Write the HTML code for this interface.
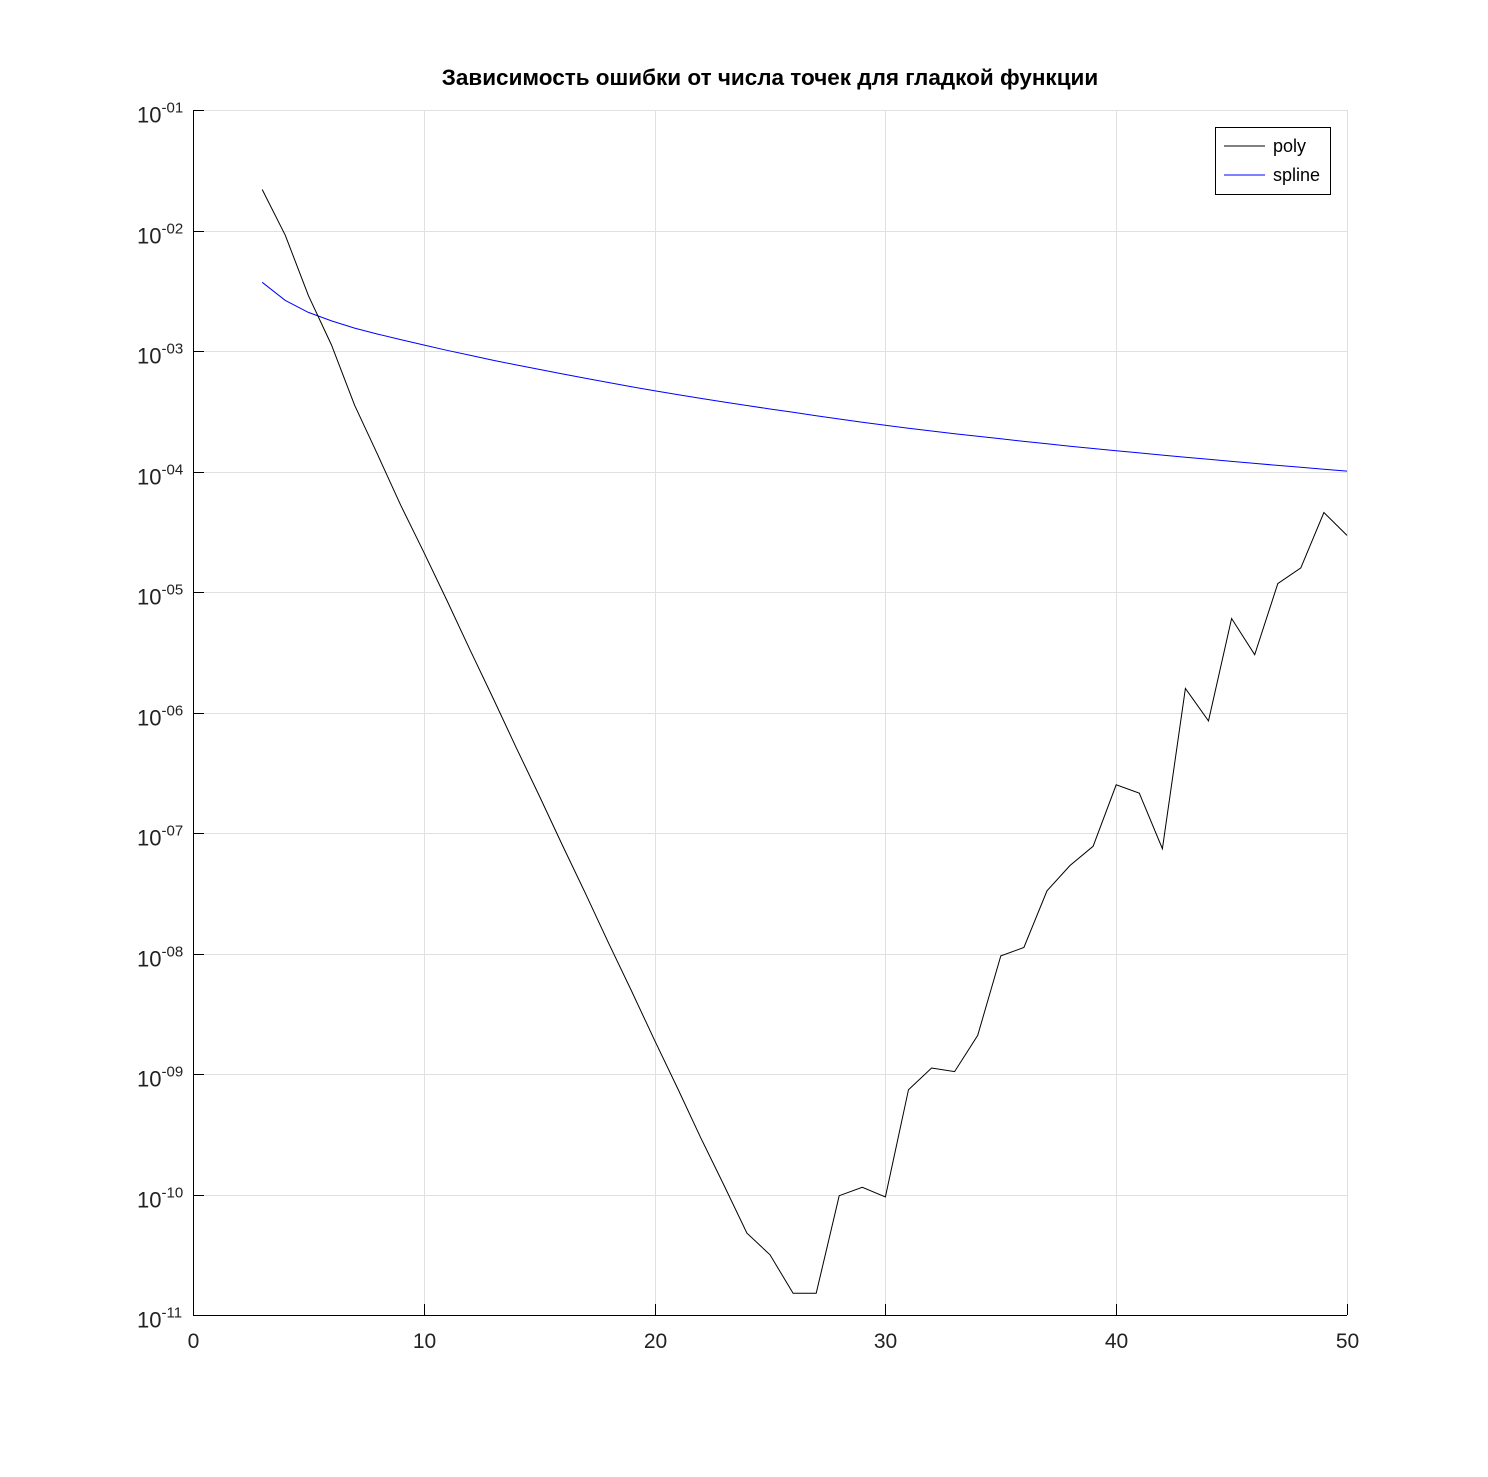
<!DOCTYPE html>
<html><head><meta charset="utf-8"><style>
html,body{margin:0;padding:0;background:#fff}
svg{display:block}
text{font-family:"Liberation Sans",sans-serif}
</style></head><body>
<svg id="chart" width="1488" height="1477" viewBox="0 0 1488 1477" xmlns="http://www.w3.org/2000/svg">
<text x="770" y="85" text-anchor="middle" font-size="22.5" font-weight="bold">Зависимость ошибки от числа точек для гладкой функции</text>
<g id="grid"></g><g id="axes"></g><g id="series"></g>
<g>
<rect x="1215.5" y="127.5" width="115" height="67" fill="#fff" stroke="#000" stroke-width="1"/>
<line x1="1224" y1="146" x2="1265" y2="146" stroke="#000"/>
<text x="1273" y="152" font-size="18">poly</text>
<line x1="1224" y1="175" x2="1265" y2="175" stroke="#00f"/>
<text x="1273" y="181" font-size="18">spline</text>
</g>
</svg>
<script>
const xTicks=[0,10,20,30,40,50];
const yExps=[-1,-2,-3,-4,-5,-6,-7,-8,-9,-10,-11];
const yTickLabels=["01","02","03","04","05","06","07","08","09","10","11"];
const nPoints=[3,4,5,6,7,8,9,10,11,12,13,14,15,16,17,18,19,20,21,22,23,24,25,26,27,28,29,30,31,32,33,34,35,36,37,38,39,40,41,42,43,44,45,46,47,48,49,50];
const polyLog=[-1.66,-2.04,-2.54,-2.95,-3.45,-3.86,-4.28,-4.67,-5.07,-5.48,-5.88,-6.29,-6.69,-7.10,-7.50,-7.91,-8.31,-8.72,-9.12,-9.53,-9.92,-10.32,-10.50,-10.82,-10.82,-10.01,-9.94,-10.02,-9.13,-8.95,-8.98,-8.68,-8.02,-7.95,-7.48,-7.27,-7.11,-6.60,-6.67,-7.13,-5.80,-6.07,-5.22,-5.52,-4.93,-4.80,-4.34,-4.53];
const splineLog=[-2.430,-2.580,-2.680,-2.750,-2.810,-2.860,-2.905,-2.950,-2.994,-3.036,-3.076,-3.115,-3.153,-3.190,-3.226,-3.261,-3.296,-3.330,-3.362,-3.393,-3.423,-3.452,-3.481,-3.509,-3.537,-3.564,-3.591,-3.617,-3.641,-3.664,-3.686,-3.708,-3.729,-3.750,-3.770,-3.790,-3.809,-3.828,-3.846,-3.864,-3.882,-3.899,-3.916,-3.933,-3.949,-3.965,-3.981,-3.997];
const NS="http://www.w3.org/2000/svg";
const L=193,R=1347,T=110,B=1315;
const sx=v=>L+(v-0)/(50-0)*(R-L);
const sy=e=>T+(-1-e)/10*(B-T);
function mk(tag,attrs,parent){const el=document.createElementNS(NS,tag);for(const k in attrs)el.setAttribute(k,attrs[k]);parent.appendChild(el);return el;}
const grid=document.getElementById('grid'),axes=document.getElementById('axes'),series=document.getElementById('series');
xTicks.forEach(v=>{
  const x=Math.round(sx(v))+0.5;
  const g=mk('line',{x1:x,y1:T,x2:x,y2:B,stroke:'#e0e0e0'},grid);
  
  
  const t=mk('line',{x1:x,y1:B,x2:x,y2:B-11,stroke:'#000'},axes);
  
  
  const lb=mk('text',{x:x,y:B+33,'text-anchor':'middle','font-size':'21',fill:'#222'},axes);
  lb.textContent=String(v);
  
  
});
yExps.forEach((e,i)=>{
  const y=Math.round(sy(e))+0.5;
  const g=mk('line',{x1:L,y1:y,x2:R,y2:y,stroke:'#e0e0e0'},grid);
  
  
  const t=mk('line',{x1:L,y1:y,x2:L+11,y2:y,stroke:'#000'},axes);
  
  
  const lb=mk('text',{x:137,y:y+12,'font-size':'22',fill:'#222'},axes);
  
  
  lb.appendChild(document.createTextNode('10'));
  const sp=mk('tspan',{dy:'-10','font-size':'15'},lb);
  sp.textContent='-'+yTickLabels[i];
});
const ax=mk('path',{d:`M${L+0.5},${T} V${B+0.5} H${R}`,fill:'none',stroke:'#000'},axes);


function line(vals,color,name){
  const d=vals.map((v,i)=>(i?'L':'M')+sx(nPoints[i]).toFixed(1)+','+sy(v).toFixed(1)).join(' ');
  const p=mk('path',{d:d,fill:'none',stroke:color,'stroke-width':'1'},series);
  
  
}
line(splineLog,'#00f','spline-line');
line(polyLog,'#000','poly-line');
</script>
</body></html>
